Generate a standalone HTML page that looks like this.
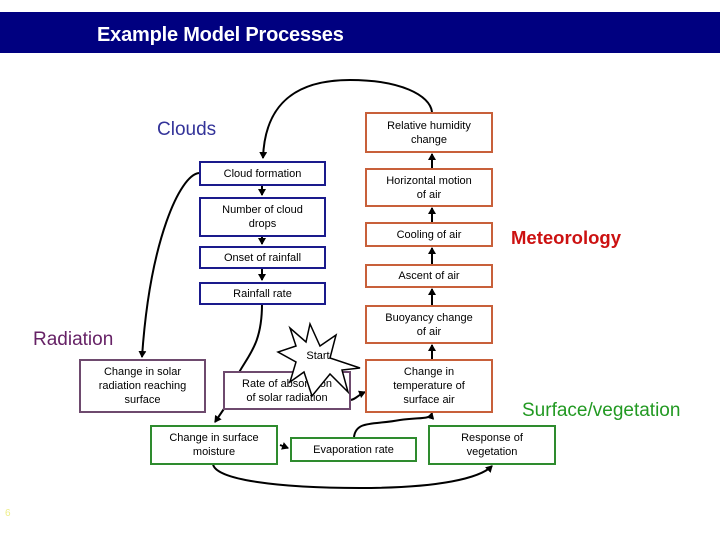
<!DOCTYPE html>
<html><head><meta charset="utf-8"><style>
body{margin:0;width:720px;height:540px;background:#fff;position:relative;overflow:hidden;font-family:"Liberation Sans",Arial,sans-serif}
.bar{position:absolute;left:0;top:12px;width:720px;height:41px;background:#000080}
.bar span{position:absolute;left:97px;top:12px;color:#fff;font-size:20px;font-weight:bold;letter-spacing:-0.2px}
.b{position:absolute;box-sizing:border-box;border:2px solid;background:#fff;display:flex;align-items:center;justify-content:center;text-align:center;font-size:11px;line-height:14px;color:#000}
.bl{border-color:#1a1a8c}.or{border-color:#c8603a}.pu{border-color:#6e4a6e}.gr{border-color:#2e8b2e}
.lab{position:absolute;font-size:19px}
svg{position:absolute;left:0;top:0}
</style></head><body>
<div class="bar"><span>Example Model Processes</span></div>
<svg width="720" height="540">
<defs><marker id="a" markerWidth="8" markerHeight="8" refX="6" refY="4" orient="auto" markerUnits="userSpaceOnUse"><path d="M0,0 L7,4 L0,8z" fill="#000"/></marker></defs>
<g stroke="#000" stroke-width="2" fill="none" marker-end="url(#a)">
<path d="M432,112 C430,95 400,80 350,80 C300,80 265,100 263,158"/>
<path d="M199,173 C180,175 150,240 142,357"/>
<path d="M262,185 V195"/><path d="M262,236 V244"/><path d="M262,268 V280"/>
<path d="M262,304 C262,360 235,360 230,400 L215,422"/>
<path d="M432,168 V154"/><path d="M432,222 V208"/><path d="M432,264 V248"/><path d="M432,305 V289"/><path d="M432,359 V345"/>
<path d="M350,400 C355,400 358,395 365,392"/>
<path d="M280,445 L288,448"/>
<path d="M354,437 C356,420 375,425 400,420 C420,417 430,420 432,413"/>
<path d="M213,464 C215,480 280,488 360,488 C440,488 480,478 492,466"/>
</g>
</svg>
<div class="b bl" style="left:199px;top:161px;width:127px;height:25px">Cloud formation</div>
<div class="b bl" style="left:199px;top:197px;width:127px;height:40px">Number of cloud<br>drops</div>
<div class="b bl" style="left:199px;top:246px;width:127px;height:23px">Onset of rainfall</div>
<div class="b bl" style="left:199px;top:282px;width:127px;height:23px">Rainfall rate</div>
<div class="b or" style="left:365px;top:112px;width:128px;height:41px">Relative humidity<br>change</div>
<div class="b or" style="left:365px;top:168px;width:128px;height:39px">Horizontal motion<br>of air</div>
<div class="b or" style="left:365px;top:222px;width:128px;height:25px">Cooling of air</div>
<div class="b or" style="left:365px;top:264px;width:128px;height:24px">Ascent of air</div>
<div class="b or" style="left:365px;top:305px;width:128px;height:39px">Buoyancy change<br>of air</div>
<div class="b or" style="left:365px;top:359px;width:128px;height:54px">Change in<br>temperature of<br>surface air</div>
<div class="b pu" style="left:79px;top:359px;width:127px;height:54px">Change in solar<br>radiation reaching<br>surface</div>
<div class="b pu" style="left:223px;top:371px;width:128px;height:39px">Rate of absorption<br>of solar radiation</div>
<div class="b gr" style="left:150px;top:425px;width:128px;height:40px">Change in surface<br>moisture</div>
<div class="b gr" style="left:290px;top:437px;width:127px;height:25px">Evaporation rate</div>
<div class="b gr" style="left:428px;top:425px;width:128px;height:40px">Response of<br>vegetation</div>
<svg width="720" height="540"><polygon points="336,335 330,358 360,368 342,370 348,392 330,374 312,396 304,372 290,382 296,362 278,352 296,346 290,328 306,342 310,324 320,346" fill="#fff" stroke="#000" stroke-width="1.5"/>
<text x="318" y="359" font-family="Liberation Sans,sans-serif" font-size="11" text-anchor="middle">Start</text></svg>
<div class="lab" style="left:157px;top:119px;color:#333399">Clouds</div>
<div class="lab" style="left:511px;top:227px;color:#cc1111;font-weight:bold;font-size:18.5px">Meteorology</div>
<div class="lab" style="left:33px;top:329px;color:#662266">Radiation</div>
<div class="lab" style="left:522px;top:400px;color:#229922">Surface/vegetation</div>
<div style="position:absolute;left:5px;top:508px;font-size:10px;color:#eeee88">6</div>
</body></html>
